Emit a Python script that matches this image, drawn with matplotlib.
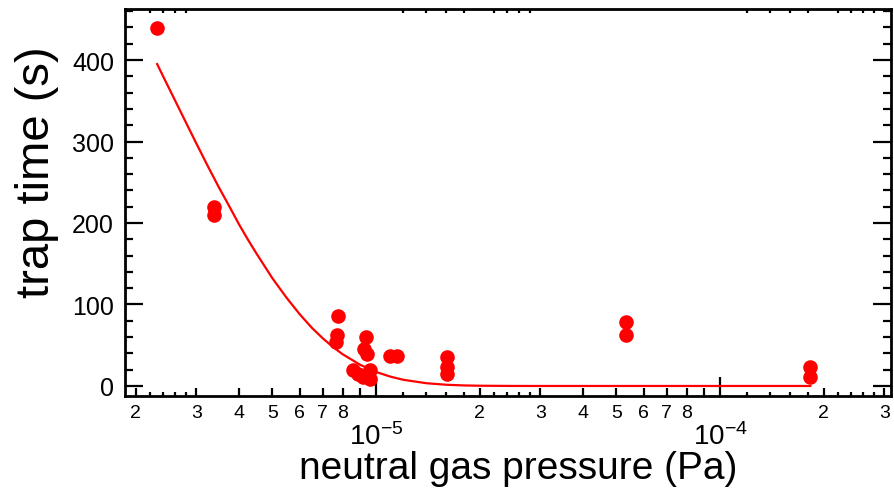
import math
import matplotlib
import matplotlib.pyplot as plt
from matplotlib.ticker import FixedLocator, FuncFormatter, MultipleLocator, NullLocator
matplotlib.use('Agg')

plt.rcParams['font.family'] = ['Liberation Sans', 'DejaVu Sans']
plt.rcParams['mathtext.fontset'] = 'custom'
plt.rcParams['mathtext.rm'] = 'Liberation Sans'
plt.rcParams['mathtext.it'] = 'Liberation Sans:italic'

# measured points
pressure = [2.31e-6, 3.38e-6, 3.38e-6,
            7.77e-6, 7.68e-6, 7.65e-6,
            9.33e-6, 9.23e-6, 9.40e-6, 8.59e-6, 8.88e-6, 9.18e-6, 9.61e-6, 9.61e-6,
            1.098e-5, 1.149e-5,
            1.61e-5, 1.61e-5, 1.61e-5,
            5.33e-5, 5.33e-5,
            1.83e-4, 1.83e-4]
trap_time = [439, 220, 210,
             86, 62, 54,
             60, 45, 39, 19, 15, 11, 19, 9,
             37, 37,
             36, 23, 15,
             79, 63,
             23, 11]

# fitted curve
fit_pressure = [2.31e-6, 2.45e-6, 2.6e-6, 2.8e-6, 3.0e-6, 3.25e-6, 3.5e-6, 3.75e-6,
                4.0e-6, 4.25e-6, 4.5e-6, 5.0e-6, 5.5e-6, 6.0e-6, 6.5e-6, 7.0e-6,
                7.5e-6, 8.0e-6, 9.0e-6, 1.0e-5, 1.1e-5, 1.2e-5, 1.4e-5, 1.6e-5,
                1.8e-5, 2.0e-5, 2.5e-5, 3.0e-5, 1.83e-4]
fit_time = [395, 373, 351, 323.5, 298, 269, 243, 220,
            198, 179, 162, 132, 108, 88, 71.6, 58.5,
            47.7, 38.9, 25.9, 17.2, 11.5, 7.6, 3.4, 1.5,
            0.66, 0.3, 0.04, 0, 0]

decades = [1e-6, 1e-5, 1e-4]
mid_ticks = [m * d for d in decades for m in range(2, 10)]
small_ticks = [m * d for d in decades for m in (1.2, 1.4, 1.6, 1.8, 2.2, 2.4, 2.6, 2.8)]

x_range = (1.863e-6, 3.14e-4)
y_range = (-12.3, 462.6)


def mid_label(v, pos):
    m = round(v / 10 ** math.floor(math.log10(v)), 3)
    if m in (2, 3, 4, 5, 6, 7, 8):
        return str(int(m))
    return ''


def major_label(v, pos):
    return r'$10^{%d}$' % int(round(math.log10(v)))


fig = plt.figure(figsize=(8.94, 4.89), dpi=100)
ax = fig.add_axes([125 / 894, 92 / 489, 766 / 894, 387 / 489])

ax.plot(fit_pressure, fit_time, color='#ff0000', lw=1.6, zorder=2)
ax.plot(pressure, trap_time, 'o', color='#ff0000', ms=10.5, mec='none', zorder=3)

ax.set_xscale('log')
ax.set_xlim(*x_range)
ax.set_ylim(*y_range)

ax.xaxis.set_major_locator(FixedLocator([1e-5, 1e-4]))
ax.xaxis.set_major_formatter(FuncFormatter(major_label))
ax.xaxis.set_minor_locator(FixedLocator(mid_ticks))
ax.xaxis.set_minor_formatter(FuncFormatter(mid_label))
ax.yaxis.set_major_locator(MultipleLocator(100))
ax.yaxis.set_minor_locator(MultipleLocator(20))

for s in ax.spines.values():
    s.set_linewidth(2)

ax.tick_params(which='both', direction='in', top=True, right=True, width=1.6)
ax.tick_params(axis='x', which='major', length=14, labelsize=20, pad=19)
ax.tick_params(axis='x', which='minor', length=6, labelsize=14, pad=6)
ax.tick_params(axis='y', which='major', length=13, labelsize=18, pad=8)
ax.tick_params(axis='y', which='minor', length=6)

# finest ticks between 1 and 3 of each decade
ax2 = ax.twiny()
ax2.set_xscale('log')
ax2.set_xlim(*x_range)
ax2.xaxis.set_major_locator(FixedLocator(small_ticks))
ax2.xaxis.set_minor_locator(NullLocator())
ax2.tick_params(axis='x', which='major', direction='in', length=3, width=1.6,
                top=True, bottom=True, labeltop=False, labelbottom=False)
for s in ax2.spines.values():
    s.set_visible(False)

fig.text(518 / 894, 10 / 489, 'neutral gas pressure (Pa)', fontsize=28,
         ha='center', va='baseline')
fig.text(37 / 894, 1 - 172 / 489, 'trap time (s)', fontsize=34, rotation=90,
         ha='center', va='center')

fig.savefig('out.png', dpi=100)
